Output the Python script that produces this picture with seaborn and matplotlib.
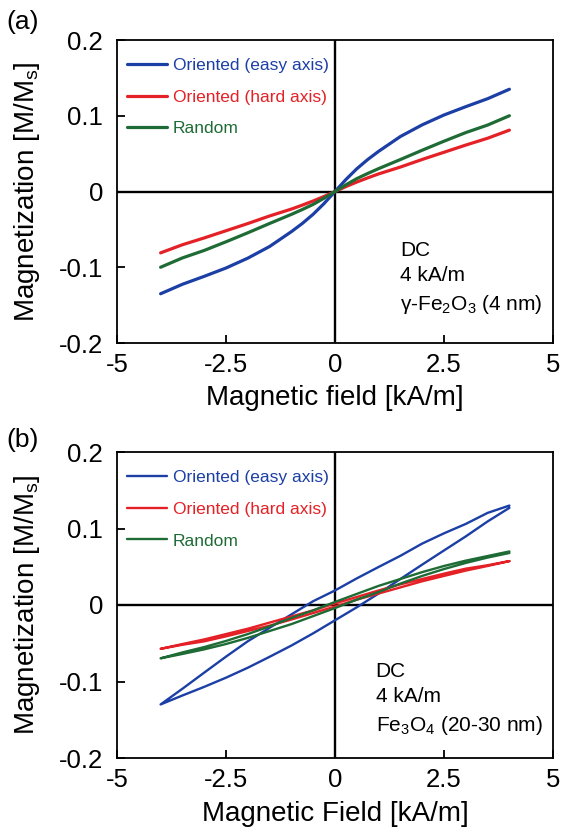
import numpy as np
import pandas as pd
import matplotlib
matplotlib.use("Agg")
import matplotlib.pyplot as plt
import seaborn as sns

# ---- data ----
# panel (a): gamma-Fe2O3, anhysteretic curves
field_a = [-4.0, -3.5, -3.0, -2.5, -2.0, -1.5, -1.0, -0.75, -0.5, -0.25, 0.0,
           0.25, 0.5, 0.75, 1.0, 1.5, 2.0, 2.5, 3.0, 3.5, 4.0]
easy_a = [-0.135, -0.1225, -0.112, -0.101, -0.088, -0.0726, -0.053, -0.0422, -0.030, -0.0158, 0.0,
          0.0158, 0.030, 0.0422, 0.053, 0.0726, 0.088, 0.101, 0.112, 0.1225, 0.135]
hard_a = [-0.081, -0.0703, -0.0613, -0.0518, -0.0423, -0.0323, -0.0232, -0.018, -0.0125, -0.0065, 0.0,
          0.0065, 0.0125, 0.018, 0.0232, 0.0323, 0.0423, 0.0518, 0.0613, 0.0703, 0.081]
random_a = [-0.100, -0.0877, -0.0778, -0.0664, -0.0545, -0.0422, -0.0302, -0.0238, -0.017, -0.0088, 0.0,
            0.0088, 0.017, 0.0238, 0.0302, 0.0422, 0.0545, 0.0664, 0.0778, 0.0877, 0.100]

# panel (b): Fe3O4, hysteresis loops (descending branch then ascending branch)
field_down = [4.0, 3.5, 3.0, 2.5, 2.0, 1.5, 1.0, 0.5, 0.0,
              -0.5, -1.0, -1.5, -2.0, -2.5, -3.0, -3.5, -4.0]
field_up = [-4.0, -3.5, -3.0, -2.5, -2.0, -1.5, -1.0, -0.5, 0.0,
            0.5, 1.0, 1.5, 2.0, 2.5, 3.0, 3.5, 4.0]
easy_down = [0.130, 0.1204, 0.106, 0.0937, 0.0803, 0.0643, 0.0497, 0.0348, 0.019,
             0.005, -0.0123, -0.0298, -0.0474, -0.0675, -0.0884, -0.1095, -0.130]
easy_up = [-0.130, -0.1183, -0.107, -0.095, -0.082, -0.0677, -0.053, -0.037, -0.020,
           -0.003, 0.015, 0.034, 0.0528, 0.0713, 0.0897, 0.1092, 0.127]
hard_down = [0.0574, 0.052, 0.0475, 0.041, 0.034, 0.027, 0.019, 0.0105, 0.002,
             -0.007, -0.015, -0.023, -0.031, -0.038, -0.045, -0.051, -0.0573]
hard_up = [-0.0573, -0.052, -0.0475, -0.041, -0.034, -0.027, -0.019, -0.0105, -0.002,
           0.007, 0.015, 0.023, 0.031, 0.038, 0.045, 0.051, 0.0574]
random_down = [0.070, 0.064, 0.058, 0.051, 0.043, 0.034, 0.025, 0.0145, 0.004,
               -0.007, -0.017, -0.028, -0.038, -0.047, -0.055, -0.062, -0.0697]
random_up = [-0.0697, -0.064, -0.058, -0.051, -0.043, -0.034, -0.025, -0.0145, -0.004,
             0.007, 0.017, 0.028, 0.038, 0.047, 0.055, 0.062, 0.068]

series_names = ["Oriented (easy axis)", "Oriented (hard axis)", "Random"]
colors = ["#1c3fa6", "#e42126", "#1e6b35"]
x_ticks = [-5, -2.5, 0, 2.5, 5]
x_ticklabels = ["-5", "-2.5", "0", "2.5", "5"]
y_ticks = [-0.2, -0.1, 0, 0.1, 0.2]
y_ticklabels = ["-0.2", "-0.1", "0", "0.1", "0.2"]

# ---- style ----
sns.set_style("ticks")
plt.rcParams['font.family'] = ['Liberation Sans', 'DejaVu Sans']
plt.rcParams['mathtext.fontset'] = 'custom'
plt.rcParams['mathtext.rm'] = 'Liberation Sans'
plt.rcParams['mathtext.it'] = 'Liberation Sans:italic'
plt.rcParams['text.color'] = 'black'
plt.rcParams['axes.labelcolor'] = 'black'

fig = plt.figure(figsize=(5.64, 8.34), dpi=100)
ax_a = fig.add_axes([117 / 564, 1 - 343 / 834, 436 / 564, 303 / 834])
ax_b = fig.add_axes([117 / 564, 1 - 758 / 834, 436 / 564, 306 / 834])

# panel (a)
for vals, name, c in zip([easy_a, hard_a, random_a], series_names, colors):
    sns.lineplot(x=field_a, y=vals, sort=False, estimator=None, errorbar=None,
                 color=c, lw=2.3, label=name, ax=ax_a)

# panel (b): loops, so no sorting / aggregation
loops = [(easy_down + easy_up), (hard_down + hard_up), (random_down + random_up)]
for vals, name, c in zip(loops, series_names, colors):
    sns.lineplot(x=field_down + field_up, y=vals, sort=False, estimator=None,
                 errorbar=None, color=c, lw=1.7, label=name, ax=ax_b)


def style_axes(ax, xlabel):
    ax.set_xlim(-5, 5)
    ax.set_ylim(-0.2, 0.2)
    ax.set_xticks(x_ticks)
    ax.set_xticklabels(x_ticklabels)
    ax.set_yticks(y_ticks)
    ax.set_yticklabels(y_ticklabels)
    ax.axhline(0, color="black", lw=1.7, zorder=1)
    ax.axvline(0, color="black", lw=1.7, zorder=1)
    for sp in ax.spines.values():
        sp.set_visible(True)
        sp.set_linewidth(1.3)
        sp.set_color("black")
    ax.tick_params(direction="in", length=6, width=1.3, labelsize=18.5,
                   colors="black")
    ax.tick_params(axis="x", pad=7)
    ax.tick_params(axis="y", pad=10)
    ax.set_xlabel(xlabel, fontsize=20)
    ax.set_ylabel(r"Magnetization [M/M$_{\rm s}$]", fontsize=20)
    ax.yaxis.set_label_coords(-0.172, 0.5)
    ax.xaxis.set_label_coords(0.5, -0.14)
    ax.legend(loc="upper left", bbox_to_anchor=(-0.012, 0.992), frameon=False,
              fontsize=12.5, handlelength=2.3, handletextpad=0.3,
              labelspacing=0.95, borderaxespad=0.5, labelcolor="linecolor")


style_axes(ax_a, "Magnetic field [kA/m]")
style_axes(ax_b, "Magnetic Field [kA/m]")

ax_a.text(1.5, -0.065, "DC\n4 kA/m\n\u03b3-Fe$_2$O$_3$ (4 nm)", fontsize=15,
          va="top", ha="left", linespacing=1.45)
ax_b.text(0.93, -0.074, "DC\n4 kA/m\nFe$_3$O$_4$ (20-30 nm)", fontsize=15,
          va="top", ha="left", linespacing=1.45)

fig.text(0.012, 1 - 22 / 834, "(a)", fontsize=19, va="center", ha="left")
fig.text(0.012, 1 - 440 / 834, "(b)", fontsize=19, va="center", ha="left")

fig.savefig("out.png", dpi=100)
